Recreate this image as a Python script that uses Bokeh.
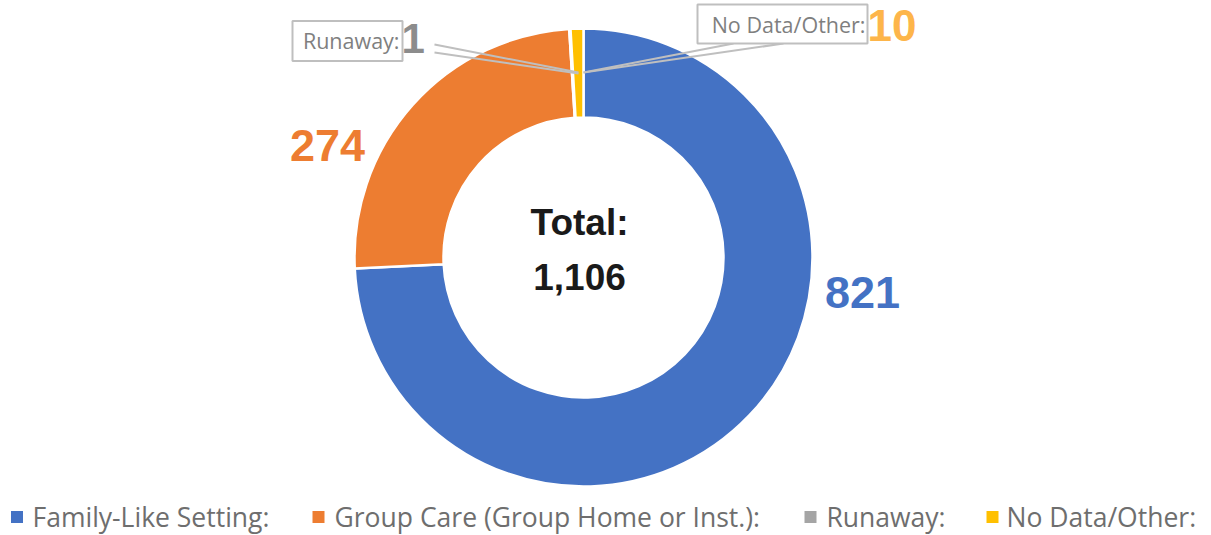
import math
from bokeh.plotting import figure
from bokeh.models import Range1d, ColumnDataSource
from bokeh.core.properties import value
from bokeh.embed import file_html
from bokeh.resources import INLINE

# ---- data ----
categories = ["Family-Like Setting:", "Group Care (Group Home or Inst.):", "Runaway:", "No Data/Other:"]
counts = [821, 274, 1, 10]
colors = ["#4472C4", "#ED7D31", "#A5A5A5", "#FFC000"]
label_colors = ["#4472C4", "#ED7D31", "#8C8C8C", "#FDB54A"]

W, H = 1211, 535
p = figure(width=W, height=H, x_range=Range1d(0, W), y_range=Range1d(0, H),
           output_backend="svg", toolbar_location=None, min_border=0)
p.axis.visible = False
p.grid.visible = False
p.outline_line_color = None
p.background_fill_color = "white"
p.border_fill_color = "white"

def Y(y):
    return H - y

cx, cy = 583, Y(257)
r_out, r_in = 229, 140
total = sum(counts)
cum = 0
starts, ends = [], []
for c in counts:
    starts.append(math.pi / 2 - 2 * math.pi * cum / total)
    cum += c
    ends.append(math.pi / 2 - 2 * math.pi * cum / total)
src = ColumnDataSource(dict(start=starts, end=ends, color=colors))
p.annular_wedge(x=cx, y=cy, inner_radius=r_in, outer_radius=r_out,
                start_angle="start", end_angle="end", direction="clock",
                fill_color="color", line_color="white", line_width=2.5, source=src)

# centre text
p.text(x=[cx - 4], y=[Y(222)], text=["Total:"], text_align="center", text_baseline="middle",
       text_font=value("Liberation Sans"), text_font_style="bold", text_font_size="37px",
       text_color="#1a1a1a")
p.text(x=[cx - 4], y=[Y(276)], text=[f"{total:,}"], text_align="center", text_baseline="middle",
       text_font=value("Liberation Sans"), text_font_style="bold", text_font_size="37px",
       text_color="#1a1a1a")

# big value labels
p.text(x=[862, 327], y=[Y(292), Y(145)], text=[str(counts[0]), str(counts[1])],
       text_align="center", text_baseline="middle",
       text_font=value("Liberation Sans"), text_font_style="bold", text_font_size="45px",
       text_color=label_colors[:2])

# callout leader lines
gray_line = "#BFBFBF"
p.line(x=[434, 578], y=[Y(44), Y(72)], line_color=gray_line, line_width=2)
p.line(x=[434, 578], y=[Y(52), Y(73)], line_color=gray_line, line_width=2)
p.line(x=[733, 583], y=[Y(43), Y(72)], line_color=gray_line, line_width=2)
p.line(x=[783, 583], y=[Y(43), Y(72)], line_color=gray_line, line_width=2)

# callout boxes
p.rect(x=[(292 + 402) / 2, (697 + 867) / 2], y=[Y(40.5), Y(23.5)],
       width=[110, 170], height=[40, 39], fill_color="white",
       line_color="#BFBFBF", line_width=2)
p.text(x=[399, 865], y=[Y(40), Y(24)], text=[categories[2], categories[3]],
       text_align="right", text_baseline="middle",
       text_font=value("Open Sans"), text_font_size="21.5px", text_color="#7F7F7F")
p.text(x=[401, 867], y=[Y(38), Y(25)], text=[str(counts[2]), str(counts[3])],
       text_align="left", text_baseline="middle",
       text_font=value("Liberation Sans"), text_font_style="bold", text_font_size=["42px", "44px"],
       text_color=label_colors[2:])

# legend
leg_sq_x = [16.5, 318, 810, 992]
leg_tx_x = [32, 334, 826, 1006]
p.rect(x=leg_sq_x, y=[Y(516.5)] * 4, width=12, height=12, fill_color=colors, line_color=None)
p.text(x=leg_tx_x, y=[Y(516)] * 4, text=categories, text_align="left", text_baseline="middle",
       text_font=value("Open Sans"), text_font_size="26.5px", text_color="#6E6E6E")

open("out.html", "w").write(file_html(p, INLINE))
